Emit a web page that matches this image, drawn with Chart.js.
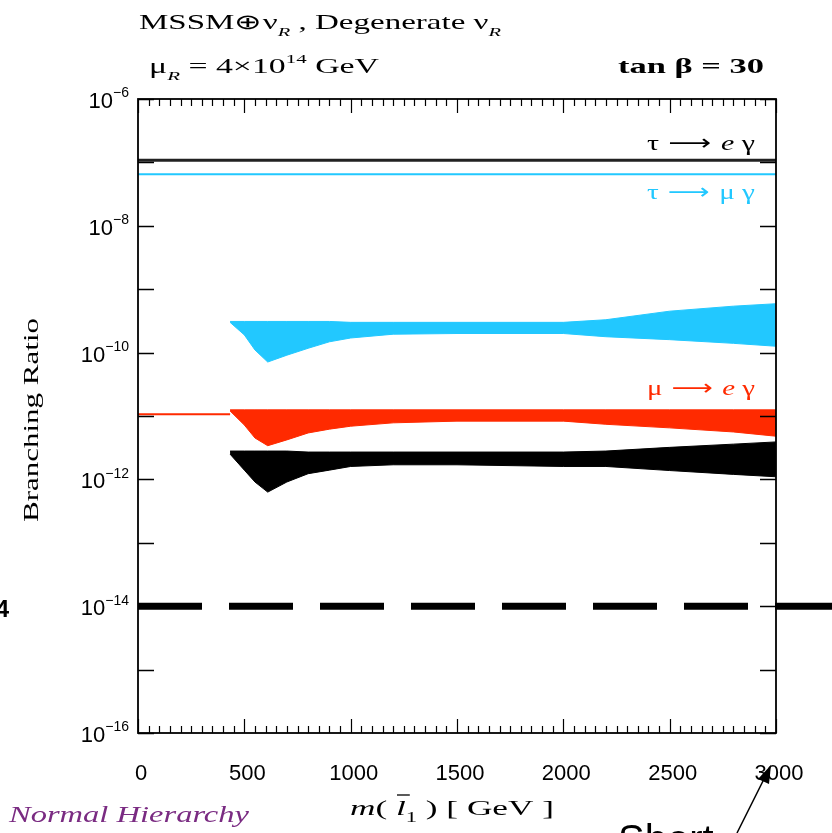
<!DOCTYPE html>
<html lang="en">
<head>
<meta charset="UTF-8">
<title>Branching Ratio vs slepton mass</title>
<script src="https://cdn.jsdelivr.net/npm/chart.js"></script>
<style>
    body { margin: 0; background: #fff; }
    #wrap { position: relative; width: 832px; height: 833px; }
</style>
</head>
<body>
<div id="wrap"><canvas id="myChart" width="832" height="833"></canvas></div>
<script>
const massGrid   = [433, 500, 550, 610, 700, 800, 900, 1000, 1200, 1500, 2000, 2200, 2500, 2800, 3000];
// tau -> mu gamma band (upper / lower edge)
const tauMuHigh  = [3.1e-10, 3.1e-10, 3.1e-10, 3.1e-10, 3.1e-10, 3.1e-10, 3.1e-10, 3.0e-10, 3.0e-10, 3.0e-10, 3.0e-10, 3.3e-10, 4.5e-10, 5.4e-10, 5.9e-10];
const tauMuLow   = [3.0e-10, 1.9e-10, 1.1e-10, 7.1e-11, 9.1e-11, 1.17e-10, 1.48e-10, 1.7e-10, 1.95e-10, 2.0e-10, 2.0e-10, 1.78e-10, 1.6e-10, 1.4e-10, 1.26e-10];
// mu -> e gamma band
const muEHigh    = [1.25e-11, 1.25e-11, 1.25e-11, 1.25e-11, 1.25e-11, 1.25e-11, 1.25e-11, 1.25e-11, 1.25e-11, 1.25e-11, 1.25e-11, 1.25e-11, 1.25e-11, 1.25e-11, 1.25e-11];
const muELow     = [1.2e-11, 7.2e-12, 4.5e-12, 3.4e-12, 4.2e-12, 5.4e-12, 6.2e-12, 6.9e-12, 7.8e-12, 8.3e-12, 8.3e-12, 7.4e-12, 6.5e-12, 5.6e-12, 4.8e-12];
// tau -> e gamma band
const tauEHigh   = [2.8e-12, 2.8e-12, 2.8e-12, 2.8e-12, 2.8e-12, 2.7e-12, 2.7e-12, 2.7e-12, 2.7e-12, 2.7e-12, 2.7e-12, 2.8e-12, 3.2e-12, 3.6e-12, 3.9e-12];
const tauELow    = [2.5e-12, 1.4e-12, 9.1e-13, 6.3e-13, 9.1e-13, 1.23e-12, 1.4e-12, 1.6e-12, 1.7e-12, 1.7e-12, 1.6e-12, 1.6e-12, 1.38e-12, 1.2e-12, 1.1e-12];

// degenerate (flat) values
const tauEFlat   = 1.08e-7;
const tauMuFlat  = 6.5e-8;
const muEFlat    = 1.07e-11;
const muEFlatMass = [0, 433];
const limitValue = 1e-14;     // dashed experimental line
const limitMass  = [0, 3300]; // runs on past the frame

const xTickValues = [0, 500, 1000, 1500, 2000, 2500, 3000];
const xMinorStep  = 50;
const yTickExps   = [-6, -8, -10, -12, -14, -16];

function pts(xs, ys) {
    return xs.map((x, i) => ({ x: x, y: ys[i] }));
}

// draws text made of pieces: [text, 'sub'|'sup'|'', fontStyle, family]
// returns screen x of each piece start
function richText(ctx, parts, x, y, opt) {
    const size = opt.size;
    const fontFor = p => `${p[2] || opt.style || ''} ${p[1] ? Math.round(size * 0.62) : size}px ${p[3] || opt.family}`;
    let w = 0;
    const widths = parts.map(p => { ctx.font = fontFor(p); const pw = ctx.measureText(p[0]).width; w += pw; return pw; });
    const sx = opt.width ? opt.width / w : 1;
    ctx.save();
    ctx.fillStyle = opt.color || '#000';
    ctx.textBaseline = 'alphabetic';
    ctx.textAlign = 'left';
    let x0 = x;
    if (opt.align === 'right') x0 = x - w * sx;
    if (opt.align === 'center') x0 = x - w * sx / 2;
    ctx.translate(x0, y);
    ctx.scale(sx, 1);
    let cx = 0;
    const starts = [];
    parts.forEach((p, i) => {
        ctx.font = fontFor(p);
        const dy = p[1] === 'sub' ? size * 0.32 : p[1] === 'sup' ? -size * 0.48 : 0;
        ctx.fillText(p[0], cx, dy);
        starts.push({ x: x0 + cx * sx, w: widths[i] * sx });
        cx += widths[i];
    });
    ctx.restore();
    return starts;
}

const sans = '"Liberation Sans", Arial, sans-serif';
const serif = '"Liberation Serif", "Times New Roman", serif';

const decor = {
    id: 'decor',
    afterDraw(chart) {
        const ctx = chart.ctx;
        const xs = chart.scales.x, ys = chart.scales.y;
        const a = chart.chartArea;
        ctx.save();

        // frame
        ctx.strokeStyle = '#000';
        ctx.lineWidth = 1.8;
        ctx.strokeRect(a.left, a.top, a.right - a.left, a.bottom - a.top);

        // x ticks top & bottom
        ctx.lineWidth = 1.2;
        for (let m = 0; m <= 3000; m += xMinorStep) {
            const px = Math.round(xs.getPixelForValue(m)) + 0.5;
            const len = (m % 500 === 0) ? 14 : 7;
            ctx.beginPath();
            ctx.moveTo(px, a.bottom); ctx.lineTo(px, a.bottom - len);
            ctx.moveTo(px, a.top); ctx.lineTo(px, a.top + len);
            ctx.stroke();
        }
        // y ticks every decade
        ctx.lineWidth = 1.5;
        for (let e = -16; e <= -6; e++) {
            const py = Math.round(ys.getPixelForValue(Math.pow(10, e))) + 0.5;
            ctx.beginPath();
            ctx.moveTo(a.left, py); ctx.lineTo(a.left + 16, py);
            ctx.moveTo(a.right, py); ctx.lineTo(a.right - 16, py);
            ctx.stroke();
        }

        // x tick labels
        xTickValues.forEach(v => {
            richText(ctx, [[String(v), '']], xs.getPixelForValue(v) + 3, 780,
                { size: 22, family: sans, align: 'center' });
        });
        // y tick labels
        yTickExps.forEach(e => {
            const py = ys.getPixelForValue(Math.pow(10, e));
            richText(ctx, [['10', ''], [String(e).replace('-', '\u2212'), 'sup']], 129, py + 9,
                { size: 22, family: sans, align: 'right' });
        });

        // header
        richText(ctx, [['MSSM\u2295\u03bd', ''], ['R', 'sub', 'italic'], [' , Degenerate \u03bd', ''], ['R', 'sub', 'italic']],
            139, 29, { size: 21, family: serif, width: 362 });
        richText(ctx, [['\u03bc', ''], ['R', 'sub', 'italic'], [' = 4\u00d710', ''], ['14', 'sup'], [' GeV', '']],
            149, 73, { size: 21, family: serif, width: 230 });
        richText(ctx, [['tan', '', 'bold'], [' \u03b2 = 30', '', 'bold']],
            618, 73, { size: 21, family: serif, width: 146 });

        // curve labels
        const arrow = [' \u27f6 ', '', '', '"DejaVu Sans", sans-serif'];
        richText(ctx, [['\u03c4', ''], arrow, ['e', '', 'italic'], [' \u03b3', '']], 647, 150,
            { size: 22, family: serif, width: 108, color: '#000' });
        richText(ctx, [['\u03c4', ''], arrow, ['\u03bc \u03b3', '']], 647, 199,
            { size: 22, family: serif, width: 108, color: '#22c8ff' });
        richText(ctx, [['\u03bc', ''], arrow, ['e', '', 'italic'], [' \u03b3', '']], 647, 395,
            { size: 22, family: serif, width: 108, color: '#ff2a00' });

        // y axis title
        ctx.save();
        ctx.translate(31, 420);
        ctx.rotate(-Math.PI / 2);
        richText(ctx, [['Branching Ratio', '']], 0, 7, { size: 22, family: serif, width: 204, align: 'center' });
        ctx.restore();

        // x axis title  m( l~_1 ) [ GeV ]
        const xt = richText(ctx, [['m', '', 'italic'], ['( ', ''], ['l', '', 'italic'], ['1', 'sub'], [' ) [ GeV ]', '']],
            350, 815, { size: 22, family: serif, width: 204 });
        ctx.strokeStyle = '#000';
        ctx.lineWidth = 1.3;
        ctx.beginPath();
        ctx.moveTo(xt[2].x + 1, 795); ctx.lineTo(xt[2].x + xt[2].w + 4, 795);
        ctx.stroke();

        // bottom-left note
        richText(ctx, [['Normal Hierarchy', '', 'italic']], 9, 822,
            { size: 24, family: serif, width: 240, color: '#7a2b82' });

        // overlay bits from the slide
        richText(ctx, [['4', '', 'bold']], 9, 617, { size: 24, family: sans, align: 'right' });
        richText(ctx, [['Short', '']], 618, 853, { size: 40, family: sans });
        ctx.fillStyle = '#000';
        ctx.lineWidth = 1.5;
        ctx.beginPath();
        ctx.moveTo(737, 833); ctx.lineTo(764, 779);
        ctx.stroke();
        ctx.beginPath();
        ctx.moveTo(771, 765); ctx.lineTo(758, 779); ctx.lineTo(769, 784);
        ctx.closePath();
        ctx.fill();

        ctx.restore();
    }
};

const cyan = '#22c8ff', red = '#ff2a00', black = '#000000';

function band(high, low, color, order) {
    return [
        { data: pts(massGrid, high), borderColor: color, borderWidth: 1, pointRadius: 0, fill: false, order: order },
        { data: pts(massGrid, low), borderColor: color, borderWidth: 1, pointRadius: 0, fill: '-1', backgroundColor: color, order: order }
    ];
}

new Chart(document.getElementById('myChart'), {
    type: 'line',
    data: {
        datasets: [
            ...band(tauMuHigh, tauMuLow, cyan, 6),
            ...band(muEHigh, muELow, red, 5),
            ...band(tauEHigh, tauELow, black, 4),
            { data: pts(muEFlatMass, [muEFlat, muEFlat]), borderColor: red, borderWidth: 2, pointRadius: 0, order: 3 },
            { data: pts([0, 3000], [tauEFlat, tauEFlat]), borderColor: '#222', borderWidth: 3, pointRadius: 0, order: 2 },
            { data: pts([0, 3000], [tauMuFlat, tauMuFlat]), borderColor: cyan, borderWidth: 2, pointRadius: 0, order: 2 },
            { data: pts(limitMass, [limitValue, limitValue]), borderColor: black, borderWidth: 7, borderDash: [64, 27], borderCapStyle: 'butt', pointRadius: 0, clip: false, order: 1 }
        ]
    },
    options: {
        responsive: false,
        animation: false,
        layout: { padding: { left: 138, top: 99, right: 56, bottom: 100 } },
        plugins: { legend: { display: false }, tooltip: { enabled: false } },
        scales: {
            x: { type: 'linear', min: 0, max: 3000, display: false },
            y: { type: 'logarithmic', min: 1e-16, max: 1e-6, display: false }
        }
    },
    plugins: [decor]
});
</script>
</body>
</html>
